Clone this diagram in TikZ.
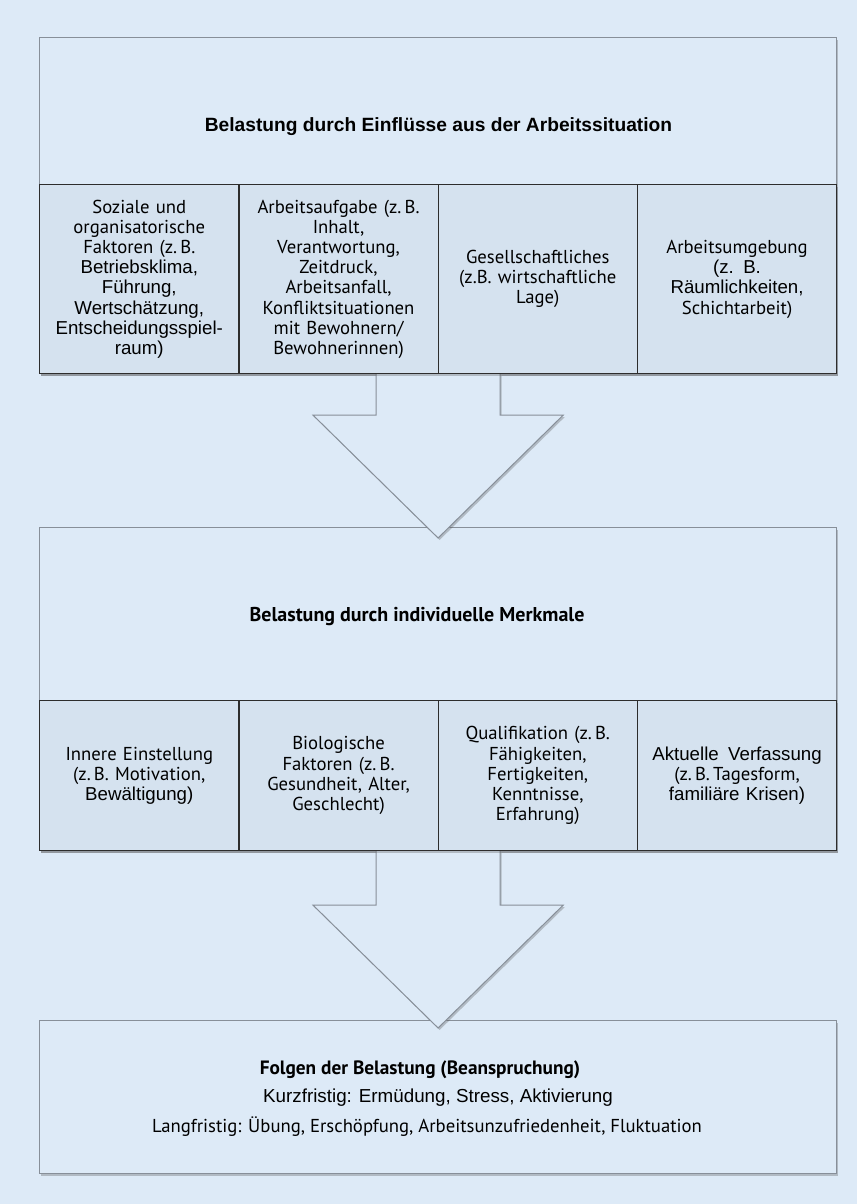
\documentclass[tikz,border=0pt]{standalone}
\usepackage{fontspec}
\setmainfont{Liberation Sans}
\newfontfamily\myrf{PT Sans}
\newfontfamily\arialf{Liberation Sans}
\usetikzlibrary{calc,shadows}
\definecolor{bgc}{RGB}{221,234,247}
\definecolor{subfill}{RGB}{213,226,239}
\definecolor{edgegrey}{RGB}{135,143,153}
\definecolor{darkedge}{RGB}{45,45,45}
\begin{document}
\begin{tikzpicture}[x=1pt,y=-1pt,
  softshadow/.style={drop shadow={shadow xshift=1.5pt, shadow yshift=-2pt, opacity=0.3, fill=black!70}},
  outerbox/.style={draw=edgegrey, line width=1.2pt, fill=bgc, anchor=north west, inner sep=0pt, minimum width=797pt, softshadow},
  subbox/.style={draw=darkedge, line width=1.3pt, fill=subfill, anchor=north west, inner sep=0pt,
    minimum width=199.25pt, text width=194pt, align=center, font=\myrf\fontsize{18.7}{20.2}\selectfont, softshadow},
  blockarrow/.style={draw=edgegrey, line width=1pt, fill=bgc, softshadow},
  headA/.style={font=\arialf\bfseries\fontsize{19.2}{22}\selectfont, inner sep=0pt},
  headM/.style={font=\myrf\bfseries\fontsize{20}{22}\selectfont, inner sep=0pt},
  bodyline/.style={inner sep=0pt}]
\fill[bgc] (0,0) rectangle (857,1204);
\useasboundingbox (0,0) rectangle (857,1204);

% outer boxes
\node[outerbox, minimum height=336pt] (top) at (39,37) {};
\node[outerbox, minimum height=323pt] (mid) at (39,527) {};
\node[outerbox, minimum height=153pt] (bot) at (39,1020) {};

% block arrows
\draw[blockarrow] ($(top.south)+(-62,0)$) -- ++(0,41) -- ++(-63,0)
  -- ($(mid.north)+(0,11)$) -- ($(top.south)+(125,41)$) -- ++(-63,0) -- ++(0,-41);
\draw[blockarrow] ($(mid.south)+(-62,0)$) -- ++(0,54) -- ++(-63,0)
  -- ($(bot.north)+(0,8)$) -- ($(mid.south)+(125,54)$) -- ++(-63,0) -- ++(0,-54);

% headings
\node[headA] (h1) at (438.5,127) {Belastung durch Einflüsse aus der Arbeitssituation};
\node[headM] (h2) at (417,617) {Belastung durch individuelle Merkmale};

% top row
\node[subbox, minimum height=189pt] (t1) at (39,184) {Soziale und\\organisatorische\\Faktoren (z.\,B.\\{\arialf Betriebsklima,}\\{\arialf Führung,}\\{\arialf Wertschätzung,}\\{\arialf Entscheidungsspiel-}\\{\arialf raum)}};
\node[subbox, minimum height=189pt] (t2) at (238.25,184) {Arbeitsaufgabe (z.\,B.\\Inhalt,\\Verantwortung,\\Zeitdruck,\\Arbeitsanfall,\\Konfliktsituationen\\mit Bewohnern/\\Bewohnerinnen)};
\node[subbox, minimum height=189pt] (t3) at (437.5,184) {Gesellschaftliches\\(z.B. wirtschaftliche\\Lage)};
\node[subbox, minimum height=189pt] (t4) at (636.75,184) {Arbeitsumgebung\\{\arialf (z. B.}\\{\arialf Räumlichkeiten,}\\Schichtarbeit)};

% middle row
\node[subbox, minimum height=150pt] (m1) at (39,700) {Innere Einstellung\\(z.\,B. Motivation,\\{\arialf Bewältigung)}};
\node[subbox, minimum height=150pt] (m2) at (238.25,700) {Biologische\\Faktoren (z.\,B.\\Gesundheit, Alter,\\Geschlecht)};
\node[subbox, minimum height=150pt] (m3) at (437.5,700) {Qualifikation (z.\,B.\\Fähigkeiten,\\Fertigkeiten,\\Kenntnisse,\\Erfahrung)};
\node[subbox, minimum height=150pt] (m4) at (636.75,700) {{\arialf Aktuelle\, Verfassung}\\(z.\,B.\,Tagesform,\\{\arialf familiäre Krisen)}};

% bottom texts
\node[headM, font=\myrf\bfseries\fontsize{19.3}{22}\selectfont] (b1) at (420,1070) {Folgen der Belastung (Beanspruchung)};
\node[bodyline, font=\arialf\fontsize{18.8}{22}\selectfont] (b2) at (438,1098) {Kurzfristig: Ermüdung, Stress, Aktivierung};
\node[bodyline, font=\myrf\fontsize{18.7}{22}\selectfont] (b3) at (427,1127) {Langfristig: Übung, Erschöpfung, Arbeitsunzufriedenheit, Fluktuation};
\end{tikzpicture}
\end{document}
